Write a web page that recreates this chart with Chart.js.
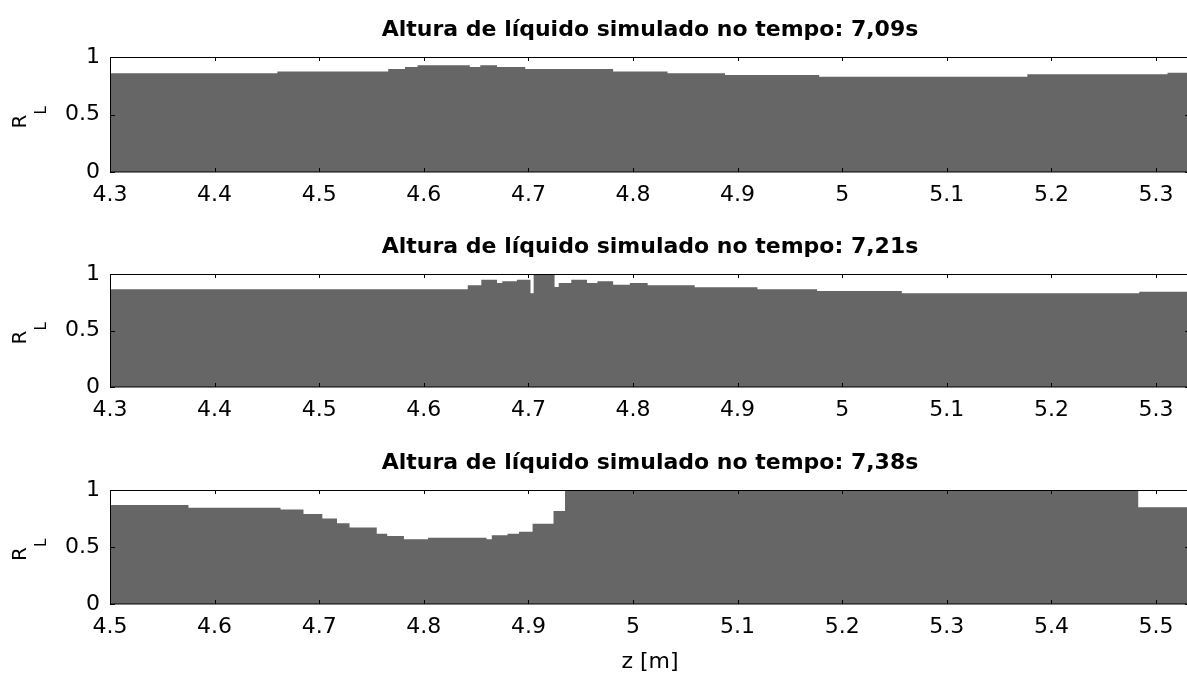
<!DOCTYPE html>
<html>
<head>
<meta charset="utf-8">
<script src="https://cdn.jsdelivr.net/npm/chart.js@4.4.1/dist/chart.umd.min.js"></script>
<style>
  html, body { margin: 0; padding: 0; background: #fff; width: 1187px; height: 674px; overflow: hidden; }
  canvas { position: absolute; left: 0; }
</style>
</head>
<body>
<canvas id="c1" width="1190" height="212" style="top:0px"></canvas>
<canvas id="c2" width="1190" height="210" style="top:217px"></canvas>
<canvas id="c3" width="1190" height="241" style="top:433px"></canvas>
<script>
// ---------- DATA ----------
const titles = [
  'Altura de líquido simulado no tempo: 7,09s',
  'Altura de líquido simulado no tempo: 7,21s',
  'Altura de líquido simulado no tempo: 7,38s'
];
const xLabel = 'z [m]';

// Plot 1 (t = 7,09 s): segment start positions z [m] (last entry = end of last segment)
const z1 = [4.300, 4.460, 4.566, 4.582, 4.594, 4.644, 4.654, 4.670, 4.697, 4.781, 4.833, 4.888, 4.978, 5.177, 5.311, 5.340];
const r1 = [0.858, 0.875, 0.895, 0.912, 0.928, 0.914, 0.928, 0.914, 0.895, 0.874, 0.858, 0.843, 0.829, 0.849, 0.864];

// Plot 2 (t = 7,21 s)
const z2 = [4.300, 4.642, 4.655, 4.670, 4.675, 4.689, 4.702, 4.705, 4.725, 4.729, 4.741, 4.756, 4.766, 4.781, 4.797, 4.814, 4.859, 4.919, 4.976, 5.057, 5.284, 5.340];
const r2 = [0.866, 0.900, 0.950, 0.920, 0.935, 0.950, 0.830, 1.000, 0.885, 0.920, 0.950, 0.920, 0.935, 0.905, 0.920, 0.900, 0.882, 0.866, 0.850, 0.830, 0.843];

// Plot 3 (t = 7,38 s)
const z3 = [4.500, 4.575, 4.663, 4.685, 4.703, 4.717, 4.729, 4.755, 4.765, 4.781, 4.804, 4.860, 4.865, 4.880, 4.891, 4.904, 4.924, 4.935, 5.483, 5.540];
const r3 = [0.868, 0.845, 0.830, 0.790, 0.750, 0.708, 0.670, 0.617, 0.596, 0.567, 0.582, 0.567, 0.603, 0.617, 0.634, 0.704, 0.816, 1.000, 0.848];

const xTicksA = [4.3, 4.4, 4.5, 4.6, 4.7, 4.8, 4.9, 5.0, 5.1, 5.2, 5.3];
const xTickLabelsA = ['4.3', '4.4', '4.5', '4.6', '4.7', '4.8', '4.9', '5', '5.1', '5.2', '5.3'];
const xTicksB = [4.5, 4.6, 4.7, 4.8, 4.9, 5.0, 5.1, 5.2, 5.3, 5.4, 5.5];
const xTickLabelsB = ['4.5', '4.6', '4.7', '4.8', '4.9', '5', '5.1', '5.2', '5.3', '5.4', '5.5'];
const yTicks = [0, 0.5, 1];
const yTickLabels = ['0', '0.5', '1'];

// ---------- DRAWING ----------
const FONT = '"DejaVu Sans", sans-serif';
const FILL = '#666666';

function toPoints(z, r) {
  return z.map((zz, i) => ({ x: zz, y: r[Math.min(i, r.length - 1)] }));
}

const decor = {
  id: 'decor',
  afterDatasetsDraw(chart, args, opts) {
    const { ctx, chartArea: a, scales: { x, y } } = chart;
    ctx.save();
    ctx.strokeStyle = '#000';
    ctx.lineWidth = 1;
    ctx.beginPath();
    x.ticks.forEach(t => {
      const px = Math.round(x.getPixelForValue(t.value)) + 0.5;
      ctx.moveTo(px, a.bottom); ctx.lineTo(px, a.bottom - 4);
      ctx.moveTo(px, a.top); ctx.lineTo(px, a.top + 4);
    });
    y.ticks.forEach(t => {
      const py = Math.round(y.getPixelForValue(t.value)) + 0.5;
      ctx.moveTo(a.left, py); ctx.lineTo(a.left + 5, py);
      ctx.moveTo(a.right, py); ctx.lineTo(a.right - 5, py);
    });
    ctx.stroke();
    ctx.strokeRect(Math.round(a.left) + 0.5, Math.round(a.top) + 0.5, a.right - a.left, Math.round(a.bottom - a.top) - 0.5);

    ctx.fillStyle = '#000';
    // title
    ctx.font = 'bold 22px ' + FONT;
    ctx.textAlign = 'center';
    ctx.textBaseline = 'middle';
    ctx.fillText(opts.title, (a.left + a.right) / 2, a.top - 27);
    // x label
    if (opts.xLabel) {
      ctx.font = '22px ' + FONT;
      ctx.fillText(opts.xLabel, (a.left + a.right) / 2, a.bottom + 58);
    }
    // y label R_L
    const cy = (a.top + a.bottom) / 2;
    ctx.save();
    ctx.translate(26, cy + 14);
    ctx.rotate(-Math.PI / 2);
    ctx.textAlign = 'left';
    ctx.textBaseline = 'alphabetic';
    ctx.font = '20px ' + FONT;
    ctx.fillText('R', 0, 0);
    const w = ctx.measureText('R').width;
    ctx.font = '15px ' + FONT;
    ctx.fillText('L', w, 20);
    ctx.restore();
    ctx.restore();
  }
};

function makeChart(id, z, r, xMin, xMax, ticks, tickLabels, title, xAxisLabel, bottomH) {
  return new Chart(document.getElementById(id), {
    type: 'line',
    data: {
      datasets: [{
        data: toPoints(z, r),
        stepped: 'before',
        fill: 'origin',
        backgroundColor: FILL,
        borderColor: FILL,
        borderWidth: 0,
        pointRadius: 0,
        pointHoverRadius: 0
      }]
    },
    options: {
      responsive: false,
      animation: false,
      events: [],
      layout: { padding: { top: 57, left: 0, right: 0, bottom: 0 } },
      plugins: {
        legend: { display: false },
        tooltip: { enabled: false },
        title: { display: false },
        decor: { title: title, xLabel: xAxisLabel }
      },
      scales: {
        x: {
          type: 'linear',
          min: xMin,
          max: xMax,
          grid: { display: false, drawTicks: false },
          border: { display: false },
          afterBuildTicks: s => { s.ticks = ticks.map(v => ({ value: v })); },
          afterFit: s => { s.height = bottomH; },
          ticks: {
            autoSkip: false,
            maxRotation: 0,
            padding: 10,
            color: '#000',
            font: { family: FONT, size: 22 },
            callback: (v, i) => tickLabels[i]
          }
        },
        y: {
          type: 'linear',
          min: 0,
          max: 1,
          grid: { display: false, drawTicks: false },
          border: { display: false },
          afterBuildTicks: s => { s.ticks = yTicks.map(v => ({ value: v })); },
          afterFit: s => { s.width = 110; },
          ticks: {
            padding: 10,
            color: '#000',
            font: { family: FONT, size: 22 },
            callback: (v, i) => yTickLabels[i]
          }
        }
      }
    },
    plugins: [decor]
  });
}

makeChart('c1', z1, r1, 4.3, 5.3325, xTicksA, xTickLabelsA, titles[0], null, 40);
makeChart('c2', z2, r2, 4.3, 5.3325, xTicksA, xTickLabelsA, titles[1], null, 40);
makeChart('c3', z3, r3, 4.5, 5.5325, xTicksB, xTickLabelsB, titles[2], xLabel, 70);
</script>
</body>
</html>
